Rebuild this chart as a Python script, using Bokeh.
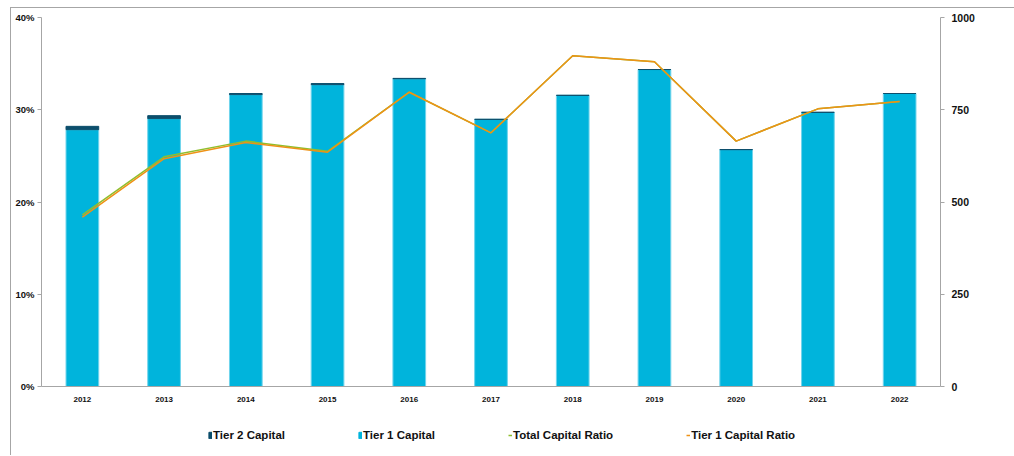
from bokeh.plotting import figure
from bokeh.layouts import column
from bokeh.models import (FactorRange, Range1d, LinearAxis, FixedTicker,
                          PrintfTickFormatter, Legend, LegendItem, ColumnDataSource)
from bokeh.embed import file_html
from bokeh.resources import INLINE

years = ["2012", "2013", "2014", "2015", "2016", "2017", "2018", "2019", "2020", "2021", "2022"]
tier1_capital = [696, 726, 791, 818, 834, 724, 789, 859, 642, 743, 794]
tier2_capital = [9, 8, 3, 3, 1, 0, 0, 0, 0, 0, 0]
total_capital_ratio = [18.6, 24.9, 26.6, 25.5, 31.9, 27.5, 35.85, 35.2, 26.6, 30.1, 30.9]
tier1_capital_ratio = [18.35, 24.7, 26.45, 25.4, 31.9, 27.5, 35.85, 35.2, 26.6, 30.1, 30.9]
left_ticks = [0, 10, 20, 30, 40]
right_ticks = [0, 250, 500, 750, 1000]
series_names = ["Tier 2 Capital", "Tier 1 Capital", "Total Capital Ratio", "Tier 1 Capital Ratio"]

src = ColumnDataSource(dict(years=years, t1=tier1_capital, t2=tier2_capital,
                            tot=total_capital_ratio, t1r=tier1_capital_ratio))

FONT = "Liberation Sans"
AX = "#a6a6a6"
C_T1, C_T1_EDGE, C_T2 = "#00B4DC", "#70D4EC", "#0C4E6C"
C_TOT, C_T1R = "#8FBF2E", "#EE9216"

p = figure(width=1003, height=411, x_range=FactorRange(*years), y_range=Range1d(0, 40),
           output_backend="svg", toolbar_location=None,
           min_border_left=30, min_border_right=74, min_border_top=9, min_border_bottom=33)
p.outline_line_color = None
p.xgrid.grid_line_color = None
p.ygrid.grid_line_color = None
p.extra_y_ranges = {"cap": Range1d(0, 1000)}

# left axis
ya = p.yaxis[0]
ya.ticker = FixedTicker(ticks=left_ticks)
ya.formatter = PrintfTickFormatter(format="%d%%")
ya.minor_tick_line_color = None
ya.axis_line_color = AX
ya.major_tick_line_color = AX
ya.major_tick_out = 4
ya.major_tick_in = 0
ya.major_label_standoff = 3
ya.major_label_text_font = FONT
ya.major_label_text_font_style = "bold"
ya.major_label_text_font_size = "9.5px"
ya.major_label_text_color = "#111111"

# right axis
ra = LinearAxis(y_range_name="cap", ticker=FixedTicker(ticks=right_ticks))
ra.minor_tick_line_color = None
ra.axis_line_color = AX
ra.major_tick_line_color = AX
ra.major_tick_out = 4
ra.major_tick_in = 0
ra.major_label_standoff = 7
ra.major_label_text_font = FONT
ra.major_label_text_font_style = "bold"
ra.major_label_text_font_size = "10.5px"
ra.major_label_text_color = "#111111"
p.add_layout(ra, "right")

# bottom axis
xa = p.xaxis[0]
xa.axis_line_color = AX
xa.major_tick_line_color = None
xa.major_tick_out = 0
xa.major_label_standoff = 10
xa.major_label_text_font = FONT
xa.major_label_text_font_style = "bold"
xa.major_label_text_font_size = "8px"
xa.major_label_text_color = "#111111"

bars = p.vbar_stack(["t1", "t2"], x="years", width=0.4, source=src, y_range_name="cap",
                    color=[C_T1, C_T2], line_color=[C_T1_EDGE, C_T2], line_width=1)
p.line("years", "tot", source=src, line_color=C_TOT, line_width=1.5)
p.line("years", "t1r", source=src, line_color=C_T1R, line_width=1.5)

# legend strip below the chart (proxy renderers sit outside the visible range)
q = figure(width=1003, height=36, x_range=Range1d(0, 1), y_range=Range1d(0, 1),
           output_backend="svg", toolbar_location=None, x_axis_type=None, y_axis_type=None,
           min_border=0)
q.outline_line_color = None
q.xgrid.grid_line_color = None
q.ygrid.grid_line_color = None
r2 = q.vbar(x=[-5], top=[-5], width=0.4, color=C_T2, line_color=C_T2)
r1 = q.vbar(x=[-5], top=[-5], width=0.4, color=C_T1, line_color=C_T1)
l1 = q.line(x=[-5, -4], y=[-5, -5], line_color=C_TOT, line_width=1.5)
l2 = q.line(x=[-5, -4], y=[-5, -5], line_color=C_T1R, line_width=1.5)

legend = Legend(items=[LegendItem(label=n, renderers=[r]) for n, r in zip(series_names, [r2, r1, l1, l2])],
                location=(167, 14), orientation="horizontal", glyph_width=4, glyph_height=8,
                label_standoff=1, spacing=73, padding=0, margin=0,
                border_line_color=None, background_fill_alpha=0,
                label_text_font=FONT, label_text_font_style="bold",
                label_text_font_size="11.5px", label_text_color="#111111",
                label_height=12)
q.add_layout(legend, "center")

layout = column(p, q, spacing=0,
                styles={"border-top": "1px solid #a6a6a6", "border-left": "1px solid #a6a6a6",
                        "margin-top": "7px", "margin-left": "10px"})

open("out.html", "w").write(file_html(layout, INLINE))
